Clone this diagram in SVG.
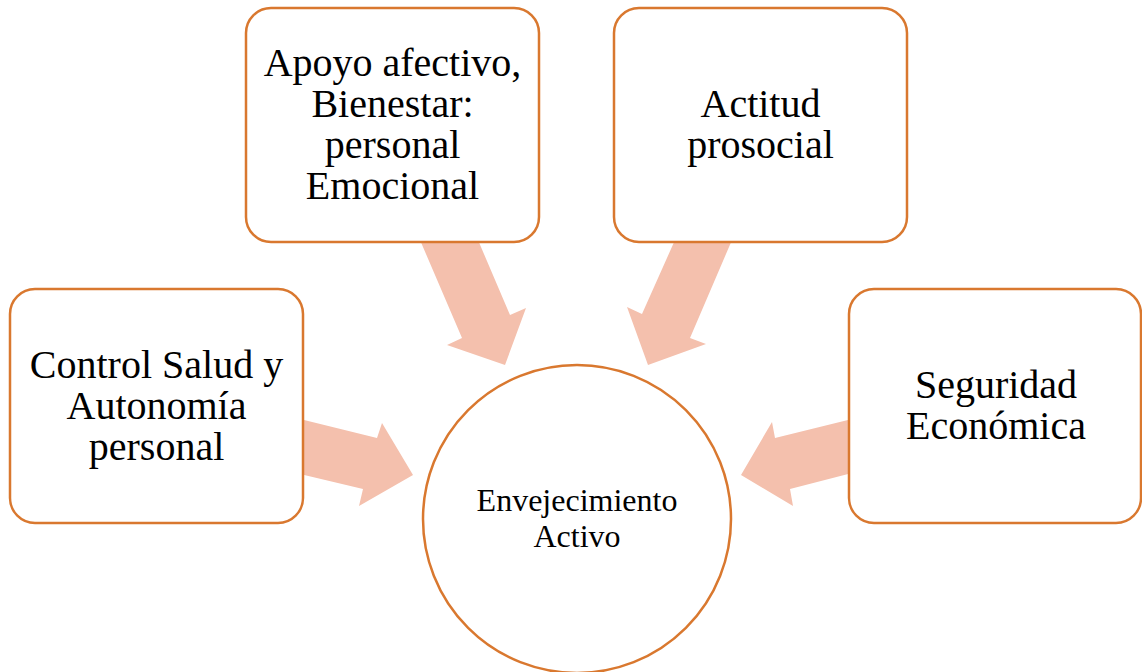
<svg xmlns="http://www.w3.org/2000/svg" width="1142" height="672" viewBox="0 0 1142 672">
<style>
.box{fill:#FFFFFF;stroke:#D9782F;stroke-width:2.5}
.arrow{fill:#F4C0AD;stroke:none}
.t{font-family:"Liberation Serif","Times New Roman",serif;font-size:40px;fill:#000000;text-anchor:middle}
.tc{font-family:"Liberation Serif","Times New Roman",serif;font-size:32px;fill:#000000;text-anchor:middle}
</style>
<rect width="1142" height="672" fill="#FFFFFF"/>
<g id="connectors">
<polygon class="arrow" points="300,419 377,438 382,423 413,475 359,506 363,489 300,474"/>
<polygon class="arrow" points="420,240 478,240 510,315 526,308 505,365 447,345 462,338"/>
<polygon class="arrow" points="675,240 732,240 690,338 706,344 648,365 627,307 642,314"/>
<polygon class="arrow" points="852,419 775,438 772,422 741,475 793,506 790,489 852,473"/>
</g>
<g id="node-control">
<rect class="box" x="10" y="289" width="293" height="234" rx="25" ry="25"/>
<text class="t" x="156.5" y="378">Control Salud y</text>
<text class="t" x="156.5" y="419">Autonomía</text>
<text class="t" x="156.5" y="460">personal</text>
</g>
<g id="node-apoyo">
<rect class="box" x="246" y="8" width="293" height="234" rx="25" ry="25"/>
<text class="t" x="392.5" y="76">Apoyo afectivo,</text>
<text class="t" x="392.5" y="117">Bienestar:</text>
<text class="t" x="392.5" y="158">personal</text>
<text class="t" x="392.5" y="199">Emocional</text>
</g>
<g id="node-actitud">
<rect class="box" x="614" y="8" width="293" height="234" rx="25" ry="25"/>
<text class="t" x="760.5" y="117">Actitud</text>
<text class="t" x="760.5" y="158">prosocial</text>
</g>
<g id="node-seguridad">
<rect class="box" x="849" y="289" width="292" height="234" rx="25" ry="25"/>
<text class="t" x="996" y="398">Seguridad</text>
<text class="t" x="996" y="439">Económica</text>
</g>
<g id="node-envejecimiento">
<circle class="box" cx="577" cy="519" r="154"/>
<text class="tc" x="577" y="511">Envejecimiento</text>
<text class="tc" x="577" y="547">Activo</text>
</g>
</svg>
